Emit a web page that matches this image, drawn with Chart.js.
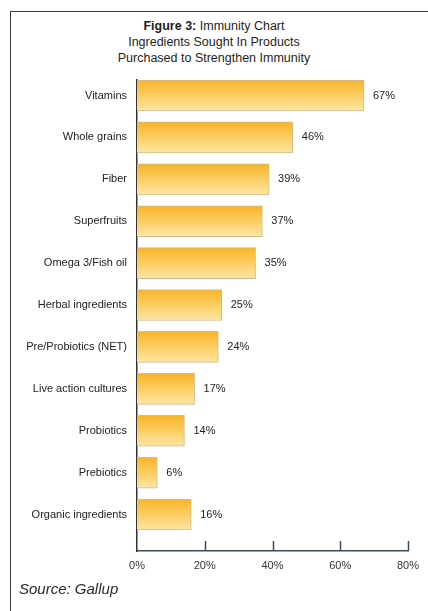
<!DOCTYPE html>
<html>
<head>
<meta charset="utf-8">
<script src="https://cdn.jsdelivr.net/npm/chart.js@4.4.1/dist/chart.umd.min.js"></script>
<style>
  html, body { margin: 0; padding: 0; background: #fff; }
  #wrap { position: relative; width: 428px; height: 611px; overflow: hidden; }
  #frame { position: absolute; left: 10px; top: 11px; width: 440px; height: 620px;
    border-left: 1.5px solid #3a3a3a; border-top: 1.5px solid #3a3a3a; }
  #title { position: absolute; left: 0; width: 428px; top: 18px; text-align: center;
    font-family: "Liberation Sans", Arial, sans-serif; font-size: 12.5px; line-height: 16px; color: #1e1e1e; }
  #title b { font-weight: bold; }
  #source { position: absolute; left: 19px; top: 580px; font-family: "Liberation Sans", Arial, sans-serif;
    font-style: italic; font-size: 15px; color: #2a2a2a; }
  canvas { position: absolute; left: 0; top: 0; }
</style>
</head>
<body>
<div id="wrap">
  <div id="frame"></div>
  <div id="title"><b>Figure 3:</b> Immunity Chart<br>Ingredients Sought In Products<br>Purchased to Strengthen Immunity</div>
  <canvas id="bar-chart" width="428" height="611"></canvas>
  <div id="source">Source: Gallup</div>
</div>
<script>
const categories = [
  "Vitamins", "Whole grains", "Fiber", "Superfruits", "Omega 3/Fish oil",
  "Herbal ingredients", "Pre/Probiotics (NET)", "Live action cultures",
  "Probiotics", "Prebiotics", "Organic ingredients"
];
const shares = [67, 46, 39, 37, 35, 25, 24, 17, 14, 6, 16];
const xTicks = [0, 20, 40, 60, 80];

const points = shares.map((v, i) => ({ x: v, y: i }));

function barFill(ctx) {
  const chart = ctx.chart;
  if (!chart.chartArea) return "#fbc04a";
  const y = chart.scales.y.getPixelForValue(ctx.dataIndex);
  const g = chart.ctx.createLinearGradient(0, y - 16, 0, y + 16);
  g.addColorStop(0, "#f7b326");
  g.addColorStop(0.45, "#fbcb5c");
  g.addColorStop(1, "#fee7a8");
  return g;
}

// percentage labels at the end of each bar
const valueLabels = {
  id: "valueLabels",
  afterDatasetsDraw(chart) {
    const c = chart.ctx;
    const meta = chart.getDatasetMeta(0);
    c.save();
    c.font = "11px 'Liberation Sans', Arial, sans-serif";
    c.fillStyle = "#222";
    c.textBaseline = "middle";
    meta.data.forEach((bar, i) => {
      c.fillText(shares[i] + "%", bar.x + 9, bar.y);
    });
    c.restore();
  }
};

// tick marks on the x axis point up into the plot
const upTicks = {
  id: "upTicks",
  afterDraw(chart) {
    const c = chart.ctx;
    const xs = chart.scales.x;
    const bottom = chart.chartArea.bottom;
    c.save();
    c.strokeStyle = "#3f4a55";
    c.lineWidth = 1.5;
    xTicks.slice(1).forEach(t => {
      const px = Math.round(xs.getPixelForValue(t)) + 0.5;
      c.beginPath();
      c.moveTo(px, bottom);
      c.lineTo(px, bottom - 10);
      c.stroke();
    });
    c.restore();
  }
};

const config = {
  type: "bar",
  data: {
    datasets: [{
      data: points,
      backgroundColor: barFill,
      borderColor: "#cdbb8e",
      borderWidth: 1,
      barThickness: 31
    }]
  },
  options: {
    indexAxis: "y",
    responsive: false,
    animation: false,
    layout: { padding: { top: 80, right: 20, left: 0, bottom: 0 } },
    plugins: { legend: { display: false }, tooltip: { enabled: false } },
    scales: {
      x: {
        type: "linear",
        min: 0,
        max: 80,
        afterBuildTicks: s => { s.ticks = xTicks.map(v => ({ value: v })); },
        afterFit: s => { s.height = 60; },
        grid: { display: false, drawTicks: false },
        border: { display: true, color: "#3f4a55", width: 1.5 },
        ticks: {
          padding: 8,
          color: "#333",
          font: { family: "'Liberation Sans', Arial, sans-serif", size: 11 },
          callback: v => v + "%"
        }
      },
      y: {
        type: "linear",
        reverse: true,
        offset: false,
        min: -0.37,
        max: 10.87,
        afterBuildTicks: s => { s.ticks = categories.map((_, i) => ({ value: i })); },
        afterFit: s => { s.width = 137; },
        grid: { display: false, drawTicks: false },
        border: { display: true, color: "#333", width: 1.5 },
        ticks: {
          padding: 10,
          color: "#222",
          font: { family: "'Liberation Sans', Arial, sans-serif", size: 11 },
          callback: v => categories[v] || ""
        }
      }
    }
  },
  plugins: [valueLabels, upTicks]
};

var ctx = document.getElementById("bar-chart").getContext("2d");
var myChart = new Chart(ctx, config);
</script>
</body>
</html>
